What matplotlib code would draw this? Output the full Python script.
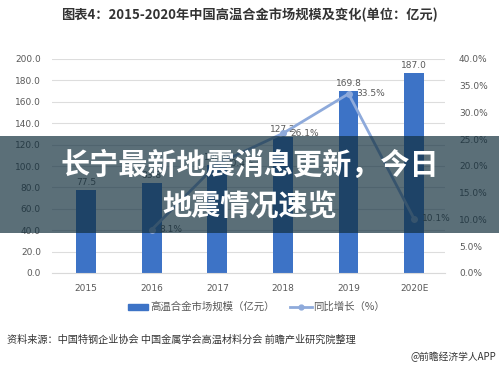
import matplotlib
matplotlib.use("Agg")
import matplotlib.pyplot as plt
from matplotlib.patches import Rectangle

plt.rcParams['font.family'] = ['Noto Sans CJK SC', 'DejaVu Sans']

# datos del grafico
anios = ["2015", "2016", "2017", "2018", "2019", "2020E"]
mercado = [77.5, 83.8, 100.9, 127.2, 169.8, 187.0]
crecimiento = [None, 8.1, 20.4, 26.1, 33.5, 10.1]
etiquetas_izq = ["0.0", "20.0", "40.0", "60.0", "80.0", "100.0", "120.0", "140.0", "160.0", "180.0", "200.0"]
etiquetas_der = ["0.0%", "5.0%", "10.0%", "15.0%", "20.0%", "25.0%", "30.0%", "35.0%", "40.0%"]

color_barra = "#3d73c6"
color_linea = "#8eaadb"
gris = "#595959"

fig = plt.figure(figsize=(4.99, 3.71), dpi=100)
fig.patch.set_facecolor("white")
ax = fig.add_axes([52 / 499, 1 - 273 / 371, (445 - 52) / 499, (273 - 59) / 371])

x = list(range(len(anios)))
ax.bar(x, mercado, width=0.3, color=color_barra, zorder=2)
for xi, v in zip(x, mercado):
    ax.text(xi, v + 3, f"{v:.1f}", ha="center", va="bottom", fontsize=6.5, color=gris,
            family="DejaVu Sans")

ax.set_xlim(-0.52, 5.47)
ax.set_ylim(0, 200)
ax.set_yticks([float(t) for t in etiquetas_izq])
ax.set_yticklabels(etiquetas_izq)
ax.set_xticks(x)
ax.set_xticklabels(anios)
ax.grid(axis="y", color="#dddddd", linewidth=0.8, zorder=0)
ax.tick_params(length=0, labelsize=6.5, labelcolor=gris, pad=8)
for lab in ax.get_xticklabels() + ax.get_yticklabels():
    lab.set_family("DejaVu Sans")
for s in ax.spines.values():
    s.set_visible(False)
ax.spines["bottom"].set_visible(True)
ax.spines["bottom"].set_color("#d9d9d9")

ax2 = ax.twinx()
xs = [xi for xi, c in zip(x, crecimiento) if c is not None]
ys = [c for c in crecimiento if c is not None]
ax2.plot(xs, ys, color=color_linea, linewidth=2, marker="o", markersize=4, zorder=3)
for xi, c in zip(xs, ys):
    ax2.text(xi + 0.12, c, f"{c:.1f}%", ha="left", va="center", fontsize=6.5, color=gris,
             family="DejaVu Sans")
ax2.set_ylim(0, 40)
ax2.set_yticks([float(t.strip("%")) for t in etiquetas_der])
ax2.set_yticklabels(etiquetas_der)
ax2.tick_params(length=0, labelsize=6.5, labelcolor=gris, pad=10)
for lab in ax2.get_yticklabels():
    lab.set_family("DejaVu Sans")
for s in ax2.spines.values():
    s.set_visible(False)

# titulo
fig.text(0.5, 1 - 15 / 371, "图表4：2015-2020年中国高温合金市场规模及变化(单位：亿元)",
         ha="center", va="center", fontsize=9.5, fontweight="bold", color="#333333")

# leyenda
ley_y = 1 - 307 / 371
fig.patches.append(Rectangle((128 / 499, ley_y - 0.009), 20 / 499, 0.018,
                             transform=fig.transFigure, color=color_barra, figure=fig))
fig.text(150 / 499, ley_y, "高温合金市场规模（亿元）", ha="left", va="center", fontsize=7.5, color=gris)
fig.lines.append(plt.Line2D([290 / 499, 312 / 499], [ley_y, ley_y], transform=fig.transFigure,
                            color=color_linea, linewidth=2, marker="o", markersize=3.5,
                            markevery=[1], figure=fig))
fig.lines[-1].set_xdata([290 / 499, 301 / 499, 312 / 499])
fig.lines[-1].set_ydata([ley_y, ley_y, ley_y])
fig.text(313 / 499, ley_y, "同比增长（%）", ha="left", va="center", fontsize=7.5, color=gris)

# fuente
fig.text(7 / 499, 1 - 340 / 371, "资料来源：中国特钢企业协会 中国金属学会高温材料分会 前瞻产业研究院整理",
         ha="left", va="center", fontsize=7.3, color="#333333")
fig.text(496 / 499, 1 - 357 / 371, "@前瞻经济学人APP", ha="right", va="center", fontsize=7, color="#333333")

# franja con el titular
banda = Rectangle((0, 1 - 233 / 371), 1, 97 / 371, transform=fig.transFigure,
                  facecolor=(17 / 255, 46 / 255, 60 / 255), alpha=0.69, zorder=5)
fig.add_artist(banda)
fig.text(0.5, 1 - 165 / 371, "长宁最新地震消息更新，今日", ha="center", va="center",
         fontsize=21, fontweight="bold", color="white", zorder=6)
fig.text(0.5, 1 - 207 / 371, "地震情况速览", ha="center", va="center",
         fontsize=21, fontweight="bold", color="white", zorder=6)

fig.savefig("out.png", dpi=100)
